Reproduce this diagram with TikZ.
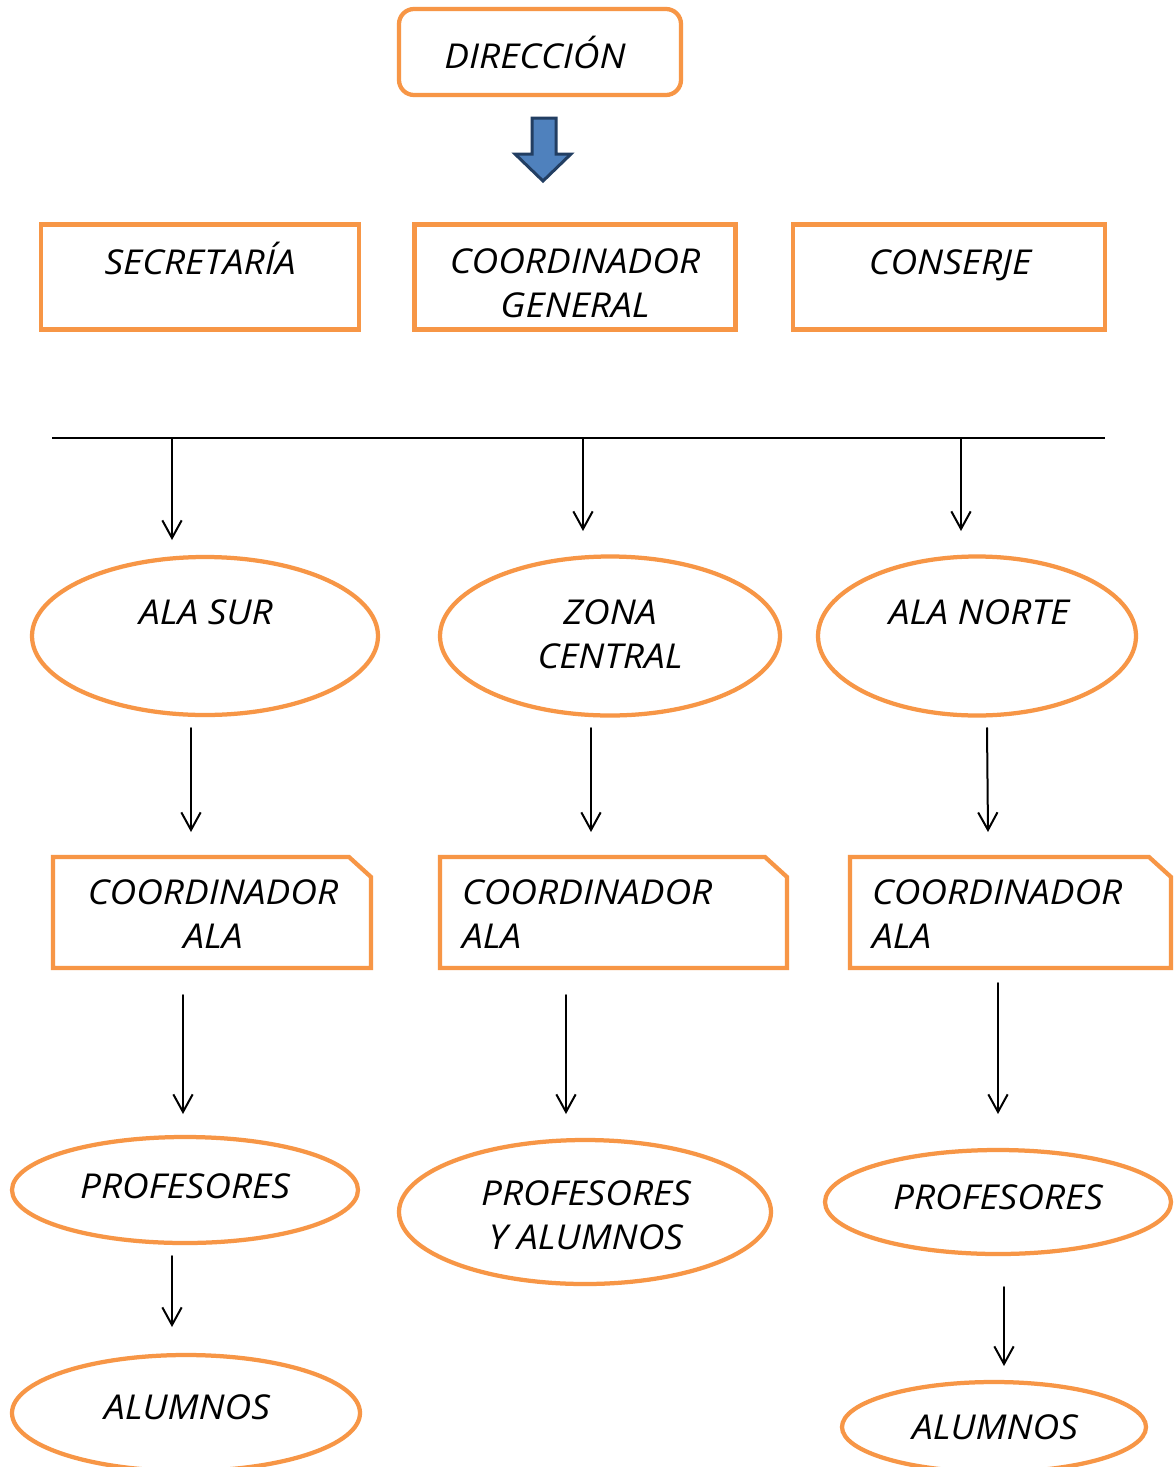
\documentclass[tikz,border=0pt]{standalone}
\usepackage{fontspec}
\setmainfont{Open Sans}[FakeStretch=1.08]
\usetikzlibrary{arrows.meta,shapes.geometric}
\definecolor{org}{HTML}{F79646}
\definecolor{blu}{HTML}{4F81BD}
\definecolor{bludk}{HTML}{223E62}
\newcommand\pxl[1]{#1*0.02cm}
\begin{document}
\begin{tikzpicture}[x=0.02cm,y=-0.02cm,
 box/.style={draw=org,line width=0.085cm,rectangle,inner sep=0,outer sep=0},
 ell/.style={draw=org,line width=0.085cm,ellipse,inner sep=0,outer sep=0},
 hidden/.style={rectangle,inner sep=0,outer sep=0},
 snip/.style={draw=org,line width=0.085cm},
 lbl/.style={font=\fontsize{19.5}{25}\selectfont\itshape,inner sep=0,outer sep=0,align=center},
 one/.style={lbl,text height=13.9pt,text depth=0pt},
 arr/.style={-{Straight Barb[length=10pt,width=11pt]},line width=0.04cm,line cap=round},
]
\fill[white] (0,0) rectangle (1176,1467);
\useasboundingbox (0,0) rectangle (1176,1467);

% top
\node[box,rounded corners=0.3cm,minimum width=\pxl{282},minimum height=\pxl{86}] (dir) at (540,52) {};
\node[one] (tdir) at (535,56) {DIRECCIÓN};
\draw[fill=blu,draw=bludk,line width=0.06cm,line join=miter]
  (532,118) -- (556,118) -- (556,154) -- (571,154) -- (543,181) -- (515,154) -- (532,154) -- cycle;

% second row
\node[box,minimum width=\pxl{318},minimum height=\pxl{105}] (sec) at (200,277) {};
\node[one] (tsec) at (200,262) {SECRETARÍA};
\node[box,minimum width=\pxl{321},minimum height=\pxl{105}] (cg) at (575,277) {};
\node[lbl] (tcg) at (575,283.5) {COORDINADOR\\GENERAL};
\node[box,minimum width=\pxl{312},minimum height=\pxl{105}] (con) at (949,277) {};
\node[one] (tcon) at (950,262) {CONSERJE};

% horizontal line
\coordinate (hl) at (52,438);
\coordinate (hr) at (1105,438);
\draw[line width=0.04cm] (hl) -- (hr);
\coordinate (h1) at (172,438);
\coordinate (h2) at (583,438);
\coordinate (h3) at (961,438);

% ellipses row
\node[ell,minimum width=\pxl{346},minimum height=\pxl{158}] (sur) at (205,636) {};
\node[one] (tsur) at (206,612) {ALA SUR};
\node[ell,minimum width=\pxl{340},minimum height=\pxl{159}] (cen) at (610,636) {};
\node[lbl] (tcen) at (610,634) {ZONA\\CENTRAL};
\node[ell,minimum width=\pxl{318},minimum height=\pxl{159}] (nor) at (977,636) {};
\node[one] (tnor) at (979,612) {ALA NORTE};

\coordinate (e1) at (172,540);
\coordinate (e2) at (583,531);
\coordinate (e3) at (961,531);
\draw[arr] (h1) -- (e1);
\draw[arr] (h2) -- (e2);
\draw[arr] (h3) -- (e3);

% coordinator boxes
\node[hidden,minimum width=\pxl{318},minimum height=\pxl{111}] (k1) at (212,912.5) {};
\node[hidden,minimum width=\pxl{347},minimum height=\pxl{111}] (k2) at (613.5,912.5) {};
\node[hidden,minimum width=\pxl{321},minimum height=\pxl{111}] (k3) at (1010.5,912.5) {};
\foreach \k in {k1,k2,k3}{
  \draw[snip] (\k.south west) -- (\k.north west) -- ([xshift=-0.44cm]\k.north east)
    -- ([yshift=-0.4cm]\k.north east) -- (\k.south east) -- cycle;
}
\node[lbl] (tk1) at (213,914) {COORDINADOR\\ALA};
\node[lbl,align=left,anchor=west] (tk2) at (462,914) {COORDINADOR\\ALA};
\node[lbl,align=left,anchor=west] (tk3) at (872,914) {COORDINADOR\\ALA};

\coordinate (s1) at (191,728);
\coordinate (f1) at (191,832);
\coordinate (s2) at (591,728);
\coordinate (f2) at (591,832);
\coordinate (s3) at (987,728);
\coordinate (f3) at (988,832);
\draw[arr] (s1) -- (f1);
\draw[arr] (s2) -- (f2);
\draw[arr] (s3) -- (f3);

% profesores
\node[ell,minimum width=\pxl{346},minimum height=\pxl{106}] (p1) at (185,1190) {};
\node[one] (tp1) at (185,1186) {PROFESORES};
\node[ell,minimum width=\pxl{372},minimum height=\pxl{144}] (p2) at (585,1212) {};
\node[lbl] (tp2) at (586,1215.5) {PROFESORES\\Y ALUMNOS};
\node[ell,minimum width=\pxl{346},minimum height=\pxl{104}] (p3) at (998,1202) {};
\node[one] (tp3) at (998,1197) {PROFESORES};

\coordinate (g1) at (183,995);
\coordinate (q1) at (183,1114);
\coordinate (g2) at (566,995);
\coordinate (q2) at (566,1114);
\coordinate (g3) at (998,983);
\coordinate (q3) at (998,1114);
\draw[arr] (g1) -- (q1);
\draw[arr] (g2) -- (q2);
\draw[arr] (g3) -- (q3);

% alumnos
\node[ell,minimum width=\pxl{348},minimum height=\pxl{116}] (al1) at (186,1413) {};
\node[one] (tal1) at (187,1407) {ALUMNOS};
\node[ell,minimum width=\pxl{304},minimum height=\pxl{90}] (al3) at (994,1427) {};
\node[one] (tal3) at (995,1427) {ALUMNOS};

\coordinate (u1) at (172,1256);
\coordinate (v1) at (172,1327);
\coordinate (u3) at (1004,1287);
\coordinate (v3) at (1004,1366);
\draw[arr] (u1) -- (v1);
\draw[arr] (u3) -- (v3);
\end{tikzpicture}
\end{document}
